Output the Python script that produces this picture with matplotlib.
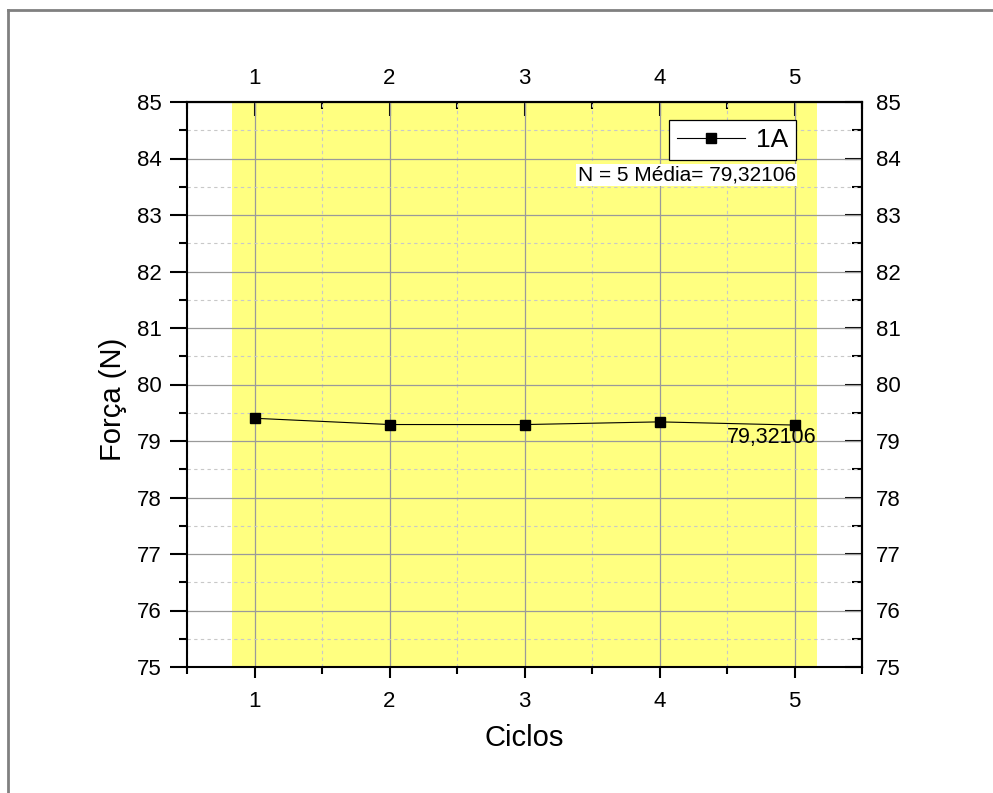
import numpy as np
import matplotlib.pyplot as plt
from matplotlib.lines import Line2D
from matplotlib.ticker import MultipleLocator

plt.rcParams['font.family'] = ['Liberation Sans', 'DejaVu Sans']

# Data
ciclos = [1, 2, 3, 4, 5]
forca = [79.4023, 79.2915, 79.2908, 79.3386, 79.2821]
serie = "1A"
x_ticks = [1, 2, 3, 4, 5]
y_ticks = [75, 76, 77, 78, 79, 80, 81, 82, 83, 84, 85]
faixa = (0.83, 5.17)

n = len(forca)
media = float(np.mean(forca))
media_txt = f"{media:.5f}".replace(".", ",")

W, H = 993, 793
fig = plt.figure(figsize=(W / 100, H / 100), dpi=100)

# outer frame lines (top and left)
fig.add_artist(Line2D([8 / W, 1], [1 - 10 / H, 1 - 10 / H], transform=fig.transFigure,
                      color='#808080', lw=2))
fig.add_artist(Line2D([8 / W, 8 / W], [0, 1 - 10 / H], transform=fig.transFigure,
                      color='#808080', lw=2))

ax = fig.add_axes([187 / W, 1 - 667 / H, (862 - 187) / W, (667 - 102) / H])
ax.set_xlim(0.5, 5.5)
ax.set_ylim(75, 85)

ax.axvspan(*faixa, color='#ffff80', lw=0, zorder=0)

for a in (ax.xaxis, ax.yaxis):
    a.set_major_locator(MultipleLocator(1))
    a.set_minor_locator(MultipleLocator(0.5))
ax.set_xticks(x_ticks)
ax.set_yticks(y_ticks)

ax.grid(which='major', color='#9a9a9a', lw=0.9, zorder=1)
ax.grid(which='minor', color='#c8c8c8', lw=0.8, ls=(0, (3, 3)), zorder=1)
ax.set_axisbelow(True)

# bottom / left: outward ticks
ax.tick_params(which='both', direction='out', top=False, right=False,
               width=1.5, labelsize=16)
ax.tick_params(axis='x', which='major', length=8, pad=9)
ax.tick_params(axis='x', which='minor', length=5)
ax.tick_params(axis='y', which='major', length=12, pad=6)
ax.tick_params(axis='y', which='minor', length=6)

# top / right: inward ticks with labels
top = ax.secondary_xaxis('top')
top.set_xticks(x_ticks)
top.xaxis.set_minor_locator(MultipleLocator(0.5))
top.tick_params(which='both', direction='in', width=1.5, labelsize=16)
top.tick_params(which='major', length=10, pad=9)
top.tick_params(which='minor', length=5)

right = ax.secondary_yaxis('right')
right.set_yticks(y_ticks)
right.yaxis.set_minor_locator(MultipleLocator(0.5))
right.tick_params(which='both', direction='in', width=1.5, labelsize=16)
right.tick_params(which='major', length=12, pad=10)
right.tick_params(which='minor', length=7)

for s in list(ax.spines.values()) + list(top.spines.values()) + list(right.spines.values()):
    s.set_linewidth(1.5)

ax.plot(ciclos, forca, color='black', lw=0.8, marker='s', ms=7.5, zorder=3, label=serie)

ax.annotate(media_txt, (ciclos[-1], forca[-1]), xytext=(-16.5, -8.6),
            textcoords='offset points', ha='center', va='center',
            fontsize=15.5, zorder=4)

leg = ax.legend(loc='upper right', bbox_to_anchor=((796 - 187) / 675, 1 - 18 / 565),
                fontsize=19, frameon=True, fancybox=False, edgecolor='black',
                framealpha=1, handlelength=2.6, handletextpad=0.4,
                borderpad=0.3, borderaxespad=0)
leg.get_frame().set_linewidth(0.9)

fig.text(796 / W, 1 - 175 / H, f"N = {n} Média= {media_txt}", fontsize=15,
         ha='right', va='center',
         bbox=dict(facecolor='white', edgecolor='none', pad=1))

ax.set_xlabel("Ciclos", fontsize=21, labelpad=9)
ax.set_ylabel("Força (N)", fontsize=21)
ax.yaxis.set_label_coords(-0.089, 0.473)

fig.savefig("out.png", dpi=100)
